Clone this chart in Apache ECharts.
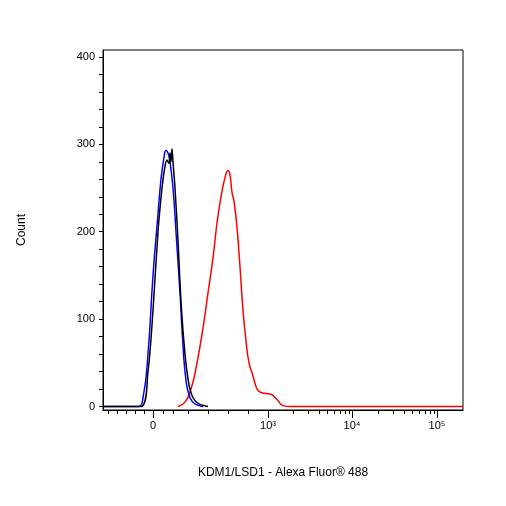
<!DOCTYPE html><html><head><meta charset="utf-8"><script src="https://cdn.jsdelivr.net/npm/echarts@6/dist/echarts.min.js"></script></head><body style="margin:0"><div id="c" style="width:506px;height:506px"></div><script>
// x in display channels: "0" label at 0, decades 85 apart above 10^3
const xTickVals=[0,115,199,284];
const xTickLabels=['0','10³','10⁴','10⁵'];
const yTickVals=[0,100,200,300,400];
const blueX=[-50,-15,-10,-5,0,5,8,11,13,15,17,20,23,27,30,33,37,42,50];
const blueY=[0,0,10,60,150,220,260,285,293,290,280,250,200,130,70,30,10,3,0];
const blackX=[-50,-12,-5,0,5,9,12,14,16,17,18,19,20,22,25,28,32,36,40,46,55];
const blackY=[0,0,40,110,200,250,275,282,278,290,280,295,280,250,190,120,60,25,10,3,0];
const redX=[25,32,38,44,50,55,60,64,68,72,75,77,79,81,84,87,90,93,96,100,104,108,113,118,124,130,137,145,200,310];
const redY=[0,5,20,50,90,130,170,210,240,262,270,265,245,235,205,160,110,75,50,35,20,16,15,14,8,1,0,0,0,0];
function minor(){const v=[];for(let i=-45;i<0;i+=9)v.push(i);for(const p of [10,20,35,55,75,95])v.push(p);
for(let d=0;d<3;d++)for(let k=2;k<10;k++)v.push(115+85*d+85*Math.log10(k));return v;}
const ff='Liberation Sans, Arial, sans-serif';
const c=echarts.init(document.getElementById('c'));
c.setOption({animation:false,
grid:{left:103,right:43,top:50,bottom:96,show:true,borderColor:'#000',borderWidth:1},
xAxis:[{type:'value',min:-50,max:310,name:'KDM1/LSD1 - Alexa Fluor® 488',nameLocation:'middle',nameGap:57,nameTextStyle:{fontFamily:ff,fontSize:12,color:'#000'},
axisLine:{onZero:false,lineStyle:{color:'#000'}},splitLine:{show:false},
axisTick:{customValues:minor(),length:4,lineStyle:{color:'#000'}},
axisLabel:{customValues:xTickVals,formatter:v=>xTickLabels[xTickVals.indexOf(v)],fontFamily:ff,fontSize:11,color:'#000',margin:10}},
{type:'value',min:-50,max:310,position:'bottom',axisLine:{show:false,onZero:false},splitLine:{show:false},axisLabel:{show:false},
axisTick:{customValues:xTickVals,length:8,lineStyle:{color:'#000'}}}],
yAxis:{type:'value',min:-4,max:408,name:'Count',nameLocation:'middle',nameGap:75,nameTextStyle:{fontFamily:ff,fontSize:12,color:'#000'},
axisLine:{show:true,onZero:false,lineStyle:{color:'#000'}},splitLine:{show:false},
axisTick:{customValues:[0,20,40,60,80,100,120,140,160,180,200,220,240,260,280,300,320,340,360,380,400],length:4,lineStyle:{color:'#000'}},
axisLabel:{customValues:yTickVals,fontFamily:ff,fontSize:11,color:'#000'}},
series:[
{type:'line',data:redX.map((x,i)=>[x,redY[i]]),smooth:true,symbol:'none',lineStyle:{color:'#ff0000',width:1.5}},
{type:'line',data:blueX.map((x,i)=>[x,blueY[i]]),smooth:true,symbol:'none',lineStyle:{color:'#0000ff',width:1.5}},
{type:'line',data:blackX.map((x,i)=>[x,blackY[i]]),smooth:0.3,symbol:'none',lineStyle:{color:'#000',width:1.5}}]});
</script></body></html>
